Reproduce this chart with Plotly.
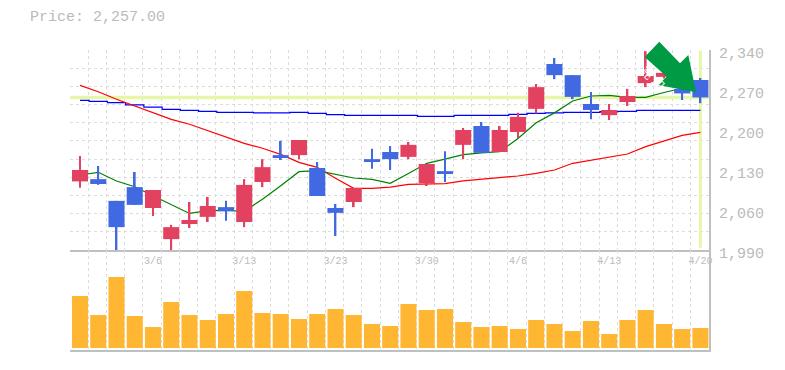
import plotly.graph_objects as go

title_text = "Price: 2,257.00"
y_ticks = [1990, 2060, 2130, 2200, 2270, 2340]
y_labels = ["1,990", "2,060", "2,130", "2,200", "2,270", "2,340"]
date_idx = [4, 9, 14, 19, 24, 29, 34]
date_labels = ["3/6", "3/13", "3/23", "3/30", "4/6", "4/13", "4/20"]
last_price = 2257

opens = [2110, 2114, 2076, 2100, 2063.5, 2009, 2035.5, 2048, 2065, 2039, 2109, 2156, 2156, 2133.5, 2063.5,
         2074, 2149, 2161.5, 2153, 2107, 2128, 2174, 2207, 2161.5, 2196.5, 2237, 2315.5, 2296, 2245.5,
         2226, 2249, 2282, 2293, 2272, 2287.5]
closes = [2130, 2105.5, 2030, 2069, 2095, 2030, 2042.5, 2067, 2058, 2104, 2135, 2151, 2182.5, 2084.5, 2055,
          2098.5, 2144, 2149, 2174, 2140.5, 2123, 2200, 2160, 2200, 2223, 2275, 2296, 2258, 2235,
          2235, 2259.5, 2294.5, 2300, 2264, 2257]
highs = [2154.5, 2137, 2076, 2126.5, 2095, 2034, 2074, 2083, 2076, 2114, 2149, 2181, 2182.5, 2144, 2070.5,
         2098.5, 2167, 2172, 2179, 2140.5, 2163, 2203.5, 2214, 2207, 2230, 2280.5, 2326, 2296, 2266.5,
         2245.5, 2272, 2338, 2302, 2276, 2291]
lows = [2099, 2104, 1989, 2069, 2049.5, 1990, 2028.5, 2039, 2041, 2030, 2100, 2147.5, 2149, 2084.5, 2014.5,
        2065, 2132, 2130, 2149, 2102, 2109, 2149, 2160, 2161.5, 2186, 2229, 2289, 2254, 2219,
        2217.5, 2242, 2275, 2290, 2252.5, 2247]
ma_short = [2121.3, 2126, 2110.8, 2100.8, 2085, 2068.8, 2054, 2059, 2059.4, 2057.7, 2079, 2102.6, 2127, 2129,
            2122.4, 2116, 2113.7, 2106.7, 2124, 2141.7, 2149, 2157, 2160, 2162, 2185, 2212.8, 2230, 2250.8,
            2259.5, 2260.7, 2257, 2257, 2265.6, 2273, 2275]
ma_mid = [2278, 2267, 2253.7, 2242, 2230, 2218.7, 2210, 2199, 2188, 2176.7, 2168, 2157.4, 2143.4, 2134.7,
          2115.4, 2098, 2098, 2100, 2105, 2105, 2106, 2110.8, 2113.7, 2117, 2119.5, 2124, 2130, 2141.7,
          2147, 2152, 2158, 2171, 2181, 2190.7, 2196]
ma_long = [2252, 2250, 2248, 2244, 2240, 2236, 2234.4, 2232.7, 2231, 2231, 2229.8, 2229.8, 2231, 2229, 2227,
           2225.7, 2225.7, 2225.7, 2225.7, 2224, 2224, 2225.7, 2225.7, 2225.7, 2227.4, 2229, 2229.8, 2231,
           2231, 2232, 2232.7, 2234.4, 2234.4, 2234.4, 2234.4]
volumes = [52, 33, 71, 32, 21, 46, 33, 28, 34, 57, 35, 34, 29, 34, 39, 33, 24, 22, 44, 38, 39, 26, 21, 22, 19,
           28, 24, 17, 27, 14, 28, 38, 24, 19, 20]

idx = list(range(len(opens)))
RED, BLUE = "#E2425F", "#4169E1"
HILITE = "#E6F7A9"
GRID = "#dcdcdc"
AXIS = "#c0c0c0"
TEXT = "#bbbbbb"
MONO = "Liberation Mono, monospace"
X_RANGE = [-0.548, 34.47]
Y_RANGE = [1990, 2340]

colors = [RED if c >= o else BLUE for o, c in zip(opens, closes)]
body_base = [min(o, c) for o, c in zip(opens, closes)]
body_size = [abs(c - o) for o, c in zip(opens, closes)]
wick_size = [h - l for h, l in zip(highs, lows)]

fig = go.Figure()
fig.add_trace(go.Scatter(x=X_RANGE, y=[last_price, last_price], mode="lines", line=dict(color=HILITE, width=3.5), hoverinfo="skip"))
fig.add_trace(go.Scatter(x=[idx[-1], idx[-1]], y=[1994, 2339], mode="lines", line=dict(color=HILITE, width=3), hoverinfo="skip"))
fig.add_trace(go.Scatter(x=idx, y=ma_long, mode="lines", line=dict(color="#0000ff", width=1.2, shape="hvh")))
fig.add_trace(go.Scatter(x=idx, y=ma_mid, mode="lines", line=dict(color="#ff0000", width=1.2)))
fig.add_trace(go.Scatter(x=idx, y=ma_short, mode="lines", line=dict(color="#008000", width=1.2)))
fig.add_trace(go.Bar(x=idx, y=wick_size, base=lows, width=0.1, yaxis="y3", marker=dict(color=colors, line_width=0)))
fig.add_trace(go.Bar(x=idx, y=body_size, base=body_base, width=0.88, yaxis="y3", marker=dict(color=colors, line_width=0)))
fig.add_trace(go.Bar(x=idx, y=volumes, width=0.88, xaxis="x2", yaxis="y2", marker=dict(color="#FFB733", line_width=0)))


def px(x, y):
    return f"{(x - 70) / 639:.5f} {(350 - y) / 300:.5f}"


arrow = [(659.3, 41.7), (680, 63.3), (688.3, 55), (696, 92.3), (658, 85), (666.7, 76.7), (644.7, 57)]
path = "M " + " L ".join(px(*p) for p in arrow) + " Z"

minor_x = dict(tick0=X_RANGE[0], dtick=1, showgrid=True, gridcolor=GRID, griddash="3px,3px", gridwidth=1, ticks="")

fig.update_layout(
    width=777, height=367, margin=dict(l=62, r=76, t=42, b=25),
    paper_bgcolor="white", plot_bgcolor="white", showlegend=False, barmode="overlay",
    xaxis=dict(domain=[0, 1], range=X_RANGE, anchor="y", tickmode="array", tickvals=date_idx, ticktext=date_labels,
               showgrid=False, zeroline=False, showline=True, linecolor=AXIS, linewidth=2, ticks="",
               tickfont=dict(family=MONO, size=10, color=TEXT), minor=minor_x),
    yaxis=dict(domain=[1 / 3, 1], range=Y_RANGE, side="right", tickmode="array", tickvals=y_ticks, ticktext=y_labels,
               showgrid=False, zeroline=False, showline=True, linecolor=AXIS, linewidth=2, ticks="", ticklabelstandoff=5,
               ticklabelshift=3, tickfont=dict(family=MONO, size=15, color=TEXT),
               minor=dict(tick0=1990, dtick=350 / 11, showgrid=True, gridcolor=GRID, griddash="3px,3px", gridwidth=1, ticks="")),
    yaxis3=dict(domain=[1 / 3, 1], range=Y_RANGE, overlaying="y", side="right", visible=False),
    xaxis2=dict(domain=[0, 1], range=X_RANGE, anchor="y2", showticklabels=False, showgrid=False, zeroline=False,
                showline=True, linecolor=AXIS, linewidth=2, ticks="", minor=minor_x),
    yaxis2=dict(domain=[0, 1 / 3], range=[-2, 98], side="right", showticklabels=False, showgrid=False, zeroline=False,
                showline=True, linecolor=AXIS, linewidth=2, ticks=""),
    shapes=[dict(type="path", path=path, xref="paper", yref="paper", fillcolor="#009944", line_width=0, layer="above")],
    annotations=[
        dict(text=title_text, xref="paper", yref="paper", x=-42 / 639, y=(350 - 18) / 300, xanchor="left", yanchor="middle",
             showarrow=False, font=dict(family=MONO, size=15, color=TEXT)),
        dict(text="売", xref="paper", yref="paper", x=(661 - 70) / 639, y=(350 - 59) / 300, showarrow=False, textangle=45,
             font=dict(family="Noto Sans CJK JP", size=12, color="white")),
        dict(text="却", xref="paper", yref="paper", x=(671.7 - 70) / 639, y=(350 - 69) / 300, showarrow=False, textangle=45,
             font=dict(family="Noto Sans CJK JP", size=12, color="white")),
    ],
)
fig.write_html("out.html")
